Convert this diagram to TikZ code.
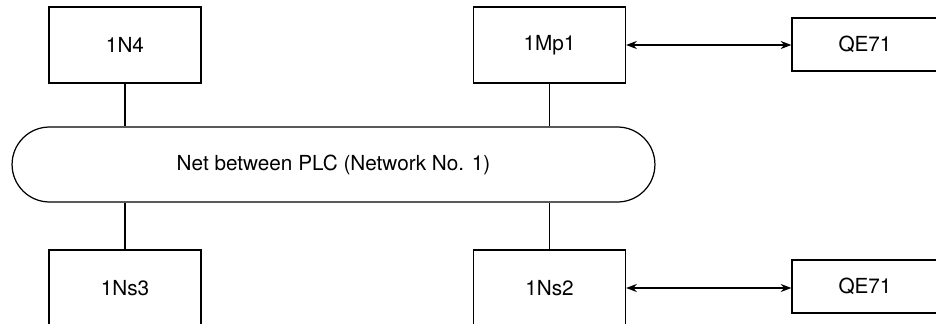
\documentclass[tikz,border=0pt]{standalone}
\usepackage{fontspec}
\setmainfont{TeX Gyre Heros}
\usetikzlibrary{positioning,arrows.meta,shapes.misc}

\begin{document}
\begin{tikzpicture}[x=0.02cm,y=-0.02cm,line width=0.7pt,
  every node/.style={font=\fontsize{11.8}{14}\selectfont},
  plcbox/.style={draw,rectangle,inner sep=0pt,minimum width=3.04cm,minimum height=1.52cm},
  cardbox/.style={draw,rectangle,inner sep=0pt,minimum width=2.92cm,minimum height=1.06cm},
  netbus/.style={draw,rounded rectangle,inner sep=0pt,minimum width=12.86cm,minimum height=1.5cm},
  link/.style={Stealth-Stealth}]
\useasboundingbox (0,0) rectangle (936,324);
% stations on the net
\node[plcbox] (n4) at (125,45) {1N4};
\node[plcbox] (mp1) at (549.5,45) {1Mp1};
\node[plcbox] (ns3) at (125,288) {1Ns3};
\node[plcbox] (ns2) at (549.5,288) {1Ns2};
% ethernet units
\node[cardbox] (qe1) at (865,44.5) {QE71};
\node[cardbox] (qe2) at (865,286.5) {QE71};
% network
\node[netbus] (net) at (333.5,164.5) {Net between PLC (Network No. 1)};
\draw (n4.south) -- (n4.south |- net.north);
\draw (mp1.south) -- (mp1.south |- net.north);
\draw (ns3.north) -- (ns3.north |- net.south);
\draw (ns2.north) -- (ns2.north |- net.south);
\draw[link] (mp1.east) -- (mp1.east -| qe1.west);
\draw[link] (ns2.east) -- (ns2.east -| qe2.west);
\end{tikzpicture}
\end{document}
